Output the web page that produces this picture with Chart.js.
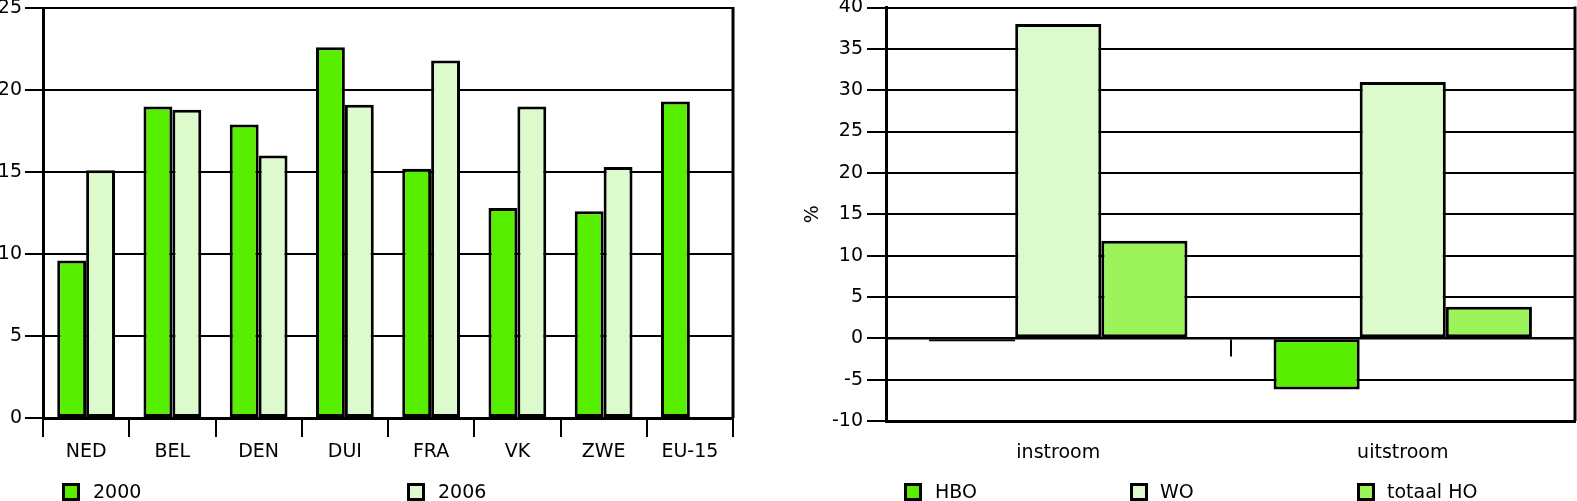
<!DOCTYPE html>
<html>
<head>
<meta charset="utf-8">
<script src="https://cdn.jsdelivr.net/npm/chart.js@4.4.1/dist/chart.umd.min.js"></script>
<style>
  html, body { margin: 0; padding: 0; background: #fff; }
  #wrap { position: relative; width: 1577px; height: 501px; overflow: hidden; font-family: "DejaVu Sans", sans-serif; }
  canvas { position: absolute; top: 0; }
  #c1 { left: 0; }
  #c2 { left: 770px; }
</style>
</head>
<body>
<div id="wrap">
  <canvas id="c1" width="770" height="501"></canvas>
  <canvas id="c2" width="807" height="501"></canvas>
</div>
<script>
// ---------- data ----------
const countries = ['NED', 'BEL', 'DEN', 'DUI', 'FRA', 'VK', 'ZWE', 'EU-15'];
const values2000 = [9.6, 19.0, 17.9, 22.6, 15.2, 12.8, 12.6, 19.3];
const values2006 = [15.1, 18.8, 16.0, 19.1, 21.8, 19.0, 15.3, null];
const leftTicks = [0, 5, 10, 15, 20, 25];

const flows = ['instroom', 'uitstroom'];
const valuesHBO = [-0.4, -6.2];
const valuesWO = [38.0, 31.0];
const valuesTotaalHO = [11.8, 3.8];
const rightTicks = [-10, -5, 0, 5, 10, 15, 20, 25, 30, 35, 40];

// ---------- styles ----------
const GREEN = '#58EE00';
const LIGHT = '#DDFACC';
const MID = '#9CF45A';
const FONT_SIZE = 19;

Chart.defaults.font.family = '"DejaVu Sans", sans-serif';
Chart.defaults.font.size = FONT_SIZE;
Chart.defaults.color = '#000';

const framePlugin = {
  id: 'frame',
  beforeDatasetsDraw(chart) {
    const {ctx, chartArea} = chart;
    ctx.save();
    ctx.strokeStyle = '#000';
    ctx.lineWidth = 3;
    ctx.beginPath();
    ctx.moveTo(chartArea.right, chartArea.top - 1);
    ctx.lineTo(chartArea.right, chartArea.bottom);
    ctx.stroke();
    ctx.restore();
  }
};

function fixW(w) { return s => { s.width = w; s.paddingTop = 0; s.paddingBottom = 0; }; }
function fixH(h) { return s => { s.height = h; s.paddingLeft = 0; s.paddingRight = 0; }; }

// ---------- left chart ----------
new Chart(document.getElementById('c1'), {
  type: 'bar',
  data: {
    labels: countries,
    datasets: [
      { label: '2000', data: values2000, backgroundColor: GREEN },
      { label: '2006', data: values2006, backgroundColor: LIGHT }
    ]
  },
  options: {
    responsive: false, animation: false, devicePixelRatio: 1,
    layout: { padding: { top: 8, right: 37, left: 0, bottom: 0 } },
    datasets: { bar: { categoryPercentage: 0.67, barPercentage: 1.0, borderColor: '#000', borderWidth: 3, borderSkipped: false } },
    plugins: { legend: { display: false }, tooltip: { enabled: false } },
    scales: {
      x: {
        offset: true,
        grid: { offset: true, drawOnChartArea: false, drawTicks: true, tickLength: 19, color: '#000', lineWidth: 2 },
        border: { display: true, color: '#000', width: 3 },
        ticks: { padding: 4, maxRotation: 0, autoSkip: false },
        afterFit: fixH(83)
      },
      y: {
        min: leftTicks[0], max: leftTicks[leftTicks.length - 1],
        afterBuildTicks: s => { s.ticks = leftTicks.map(v => ({ value: v })); },
        grid: { color: '#000', lineWidth: 2, tickLength: 18 },
        border: { display: true, color: '#000', width: 3 },
        ticks: { padding: 3 },
        afterFit: fixW(43)
      }
    }
  },
  plugins: [framePlugin]
});

// ---------- right chart ----------
new Chart(document.getElementById('c2'), {
  type: 'bar',
  data: {
    labels: flows,
    datasets: [
      { label: 'HBO', data: valuesHBO, backgroundColor: GREEN },
      { label: 'WO', data: valuesWO, backgroundColor: LIGHT },
      { label: 'totaal HO', data: valuesTotaalHO, backgroundColor: MID }
    ]
  },
  options: {
    responsive: false, animation: false, devicePixelRatio: 1,
    layout: { padding: { top: 7.5, right: 2, left: 0, bottom: 0 } },
    datasets: { bar: { categoryPercentage: 0.75, barPercentage: 1.0, borderColor: '#000', borderWidth: 3, borderSkipped: false } },
    plugins: { legend: { display: false }, tooltip: { enabled: false } },
    scales: {
      x: {
        offset: true,
        grid: { display: false, drawTicks: false },
        border: { display: true, color: '#000', width: 3 },
        ticks: { padding: 21, maxRotation: 0, autoSkip: false },
        afterFit: fixH(80)
      },
      x2: {
        type: 'category', axis: 'x',
        position: { y: 0 },
        offset: true,
        grid: { offset: true, drawOnChartArea: false, drawTicks: true, tickLength: 17, color: '#000', lineWidth: 2 },
        border: { display: true, color: '#000', width: 2.5 },
        ticks: { display: false },
        afterFit: fixH(0)
      },
      y: {
        min: rightTicks[0], max: rightTicks[rightTicks.length - 1],
        afterBuildTicks: s => { s.ticks = rightTicks.map(v => ({ value: v })); },
        grid: { color: '#000', lineWidth: 2, tickLength: 19 },
        border: { display: true, color: '#000', width: 3 },
        ticks: { padding: 4 },
        title: { display: true, text: '%', font: { size: FONT_SIZE }, padding: { top: 32, bottom: 0 } },
        afterFit: fixW(116)
      }
    }
  },
  plugins: [framePlugin]
});

// ---------- legends (HTML, built from dataset labels) ----------
const legendItems = [
  { label: '2000', color: GREEN, box: 62, text: 93 },
  { label: '2006', color: LIGHT, box: 407, text: 438 },
  { label: 'HBO', color: GREEN, box: 904, text: 935 },
  { label: 'WO', color: LIGHT, box: 1130, text: 1160 },
  { label: 'totaal HO', color: MID, box: 1357, text: 1387 }
];
const wrap = document.getElementById('wrap');
legendItems.forEach(it => {
  const b = document.createElement('div');
  b.style.cssText = `position:absolute;left:${it.box}px;top:483px;width:12px;height:12px;border:3px solid #000;background:${it.color};`;
  wrap.appendChild(b);
  const t = document.createElement('div');
  t.textContent = it.label;
  t.style.cssText = `position:absolute;left:${it.text}px;top:479px;font-size:${FONT_SIZE}px;line-height:24px;color:#000;white-space:nowrap;`;
  wrap.appendChild(t);
});
</script>
</body>
</html>
